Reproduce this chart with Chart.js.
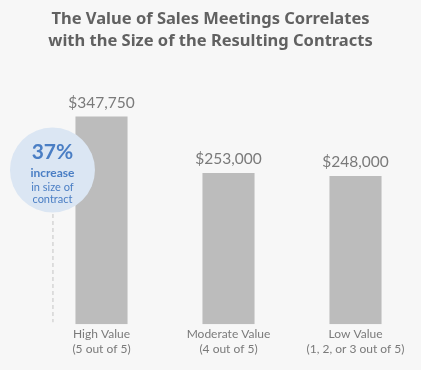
<!DOCTYPE html>
<html>
<head>
<meta charset="utf-8">
<script src="https://cdn.jsdelivr.net/npm/chart.js@4"></script>
<style>
  html, body { margin: 0; padding: 0; background: #f7f7f7; }
  #wrap { width: 421px; height: 370px; }
</style>
</head>
<body>
<div id="wrap"><canvas id="salesChart" width="421" height="370"></canvas></div>
<script>
const categories = [['High Value', '(5 out of 5)'], ['Moderate Value', '(4 out of 5)'], ['Low Value', '(1, 2, or 3 out of 5)']];
const contractValues = [347750, 253000, 248000];
const valueLabels = ['$347,750', '$253,000', '$248,000'];
const titleLines = ['The Value of Sales Meetings Correlates', 'with the Size of the Resulting Contracts'];
const calloutLines = ['37%', 'increase', 'in size of', 'contract'];

// labels over each bar
const valueLabelPlugin = {
    id: 'valueLabels',
    afterDatasetsDraw(chart) {
        const ctx = chart.ctx;
        const meta = chart.getDatasetMeta(0);
        ctx.save();
        ctx.font = '15.5px Lato';
        ctx.fillStyle = '#7a7a7a';
        ctx.textAlign = 'center';
        ctx.textBaseline = 'bottom';
        meta.data.forEach((bar, i) => {
            ctx.fillText(valueLabels[i], bar.x, bar.y - 6);
        });
        ctx.restore();
    }
};

// the blue circle callout with dashed line
const calloutPlugin = {
    id: 'callout',
    afterDatasetsDraw(chart) {
        const ctx = chart.ctx;
        const bar = chart.getDatasetMeta(0).data[0];
        const area = chart.chartArea;
        const cx = bar.x - bar.width / 2 - 23;
        const cy = 170;
        ctx.save();
        ctx.strokeStyle = '#c4c4c4';
        ctx.lineWidth = 1;
        ctx.setLineDash([4, 3]);
        ctx.beginPath();
        ctx.moveTo(cx + 0.5, cy + 44);
        ctx.lineTo(cx + 0.5, area.bottom - 2);
        ctx.stroke();
        ctx.setLineDash([]);
        ctx.fillStyle = '#dbe6f3';
        ctx.beginPath();
        ctx.arc(cx, cy, 42.5, 0, Math.PI * 2);
        ctx.fill();
        ctx.fillStyle = '#4a7ec4';
        ctx.textAlign = 'center';
        ctx.textBaseline = 'middle';
        ctx.font = 'bold 21px Lato';
        ctx.fillText(calloutLines[0], cx, cy - 18);
        ctx.font = 'bold 12px Lato';
        ctx.fillText(calloutLines[1], cx, cy + 3);
        ctx.font = '11px Lato';
        ctx.fillText(calloutLines[2], cx, cy + 17);
        ctx.fillText(calloutLines[3], cx, cy + 29);
        ctx.restore();
    }
};

const ctx = document.getElementById('salesChart').getContext('2d');
const salesChart = new Chart(ctx, {
    type: 'bar',
    data: {
        labels: categories,
        datasets: [{
            data: contractValues,
            backgroundColor: '#bcbcbc',
            barPercentage: 0.41,
            categoryPercentage: 1.0
        }]
    },
    options: {
        responsive: false,
        animation: false,
        layout: { padding: { left: 2, right: 2, top: 0, bottom: 11 } },
        plugins: {
            legend: { display: false },
            tooltip: { enabled: false },
            title: {
                display: true,
                text: titleLines,
                color: '#616161',
                font: { family: 'Noto Sans', size: 16.5, weight: 'bold', lineHeight: 1.34 },
                padding: { top: 8, bottom: 48 }
            }
        },
        scales: {
            x: {
                grid: { display: false, drawTicks: false },
                border: { display: false },
                ticks: {
                    color: '#7a7a7a',
                    font: { family: 'Lato', size: 12, lineHeight: 1.2 },
                    padding: 3
                }
            },
            y: {
                display: true,
                min: 0,
                max: 375000,
                grid: { display: false, drawTicks: false },
                border: { display: false },
                ticks: { display: false },
                afterFit(scale) { scale.width = 36; }
            }
        }
    },
    plugins: [valueLabelPlugin, calloutPlugin]
});
</script>
</body>
</html>
